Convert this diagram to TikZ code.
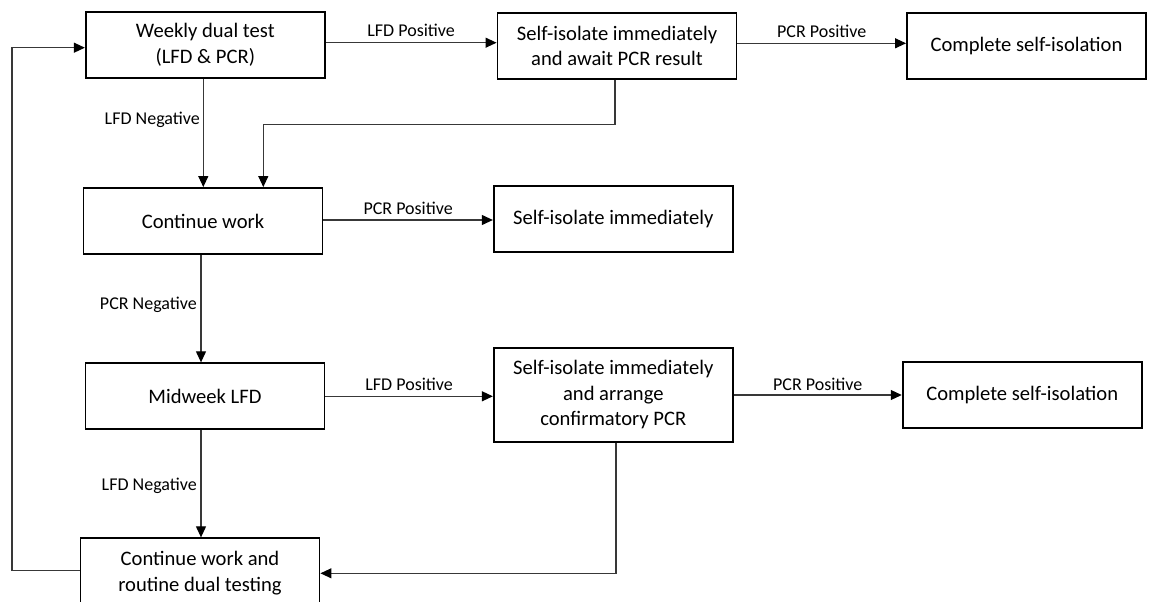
\documentclass[tikz,border=0pt]{standalone}
\usepackage{fontspec}
\setmainfont{Carlito}
\usetikzlibrary{arrows.meta}
\begin{document}
\begin{tikzpicture}[x=1pt,y=-1pt,
  box/.style={draw=black, line width=1.9pt, fill=white, minimum width=239pt, minimum height=66pt, inner sep=2pt, align=center, font=\fontsize{20.6}{25.5}\selectfont},
  conn/.style={draw=black!78, line width=1.1pt},
  arr/.style={conn, -{Triangle[length=11pt,width=10pt,color=black]}},
  lab/.style={font=\fontsize{18}{20}\selectfont, inner sep=0pt}
]
\useasboundingbox (0,0) rectangle (1151,602);
\fill[white] (0,0) rectangle (1151,602);
\clip (0,0) rectangle (1151,602);

\node[box] (b1) at (205.3,44.7) {Weekly dual test\\(LFD \& PCR)};
\node[box] (b2) at (617,45.7) {Self-isolate immediately\\and await PCR result};
\node[box] (b3) at (1026.5,45.7) {Complete self-isolation};
\node[box] (b4) at (203,221) {Continue work};
\node[box] (b5) at (613.3,219) {Self-isolate immediately};
\node[box] (b6) at (205,396.3) {Midweek LFD};
\node[box, minimum height=94.6pt] (b7) at (613.3,395) {Self-isolate immediately\\and arrange\\confirmatory PCR};
\node[box] (b8) at (1022.2,395.4) {Complete self-isolation};
\node[box, minimum height=70pt] (b9) at (200,573.3) {Continue work and\\routine dual testing};

% horizontal arrows with labels
\draw[arr] ([yshift=2pt]b1.east) -- ([yshift=2pt]b1.east -| b2.west)
  node[lab, midway, anchor=base, yshift=6.5pt] (t1) {LFD Positive};
\draw[arr] ([yshift=2.4pt]b2.east) -- ([yshift=2.4pt]b2.east -| b3.west)
  node[lab, midway, anchor=base, yshift=6pt] (t2) {PCR Positive};
\draw[arr] ([yshift=1pt]b4.east) -- ([yshift=1pt]b4.east -| b5.west)
  node[lab, midway, anchor=base, yshift=6pt] (t3) {PCR Positive};
\draw[arr] (b6.east) -- (b6.east -| b7.west)
  node[lab, midway, anchor=base, yshift=5.6pt] (t4) {LFD Positive};
\draw[arr] (b7.east) -- (b7.east -| b8.west)
  node[lab, midway, anchor=base, yshift=5pt] (t5) {PCR Positive};

% vertical arrows
\draw[arr] ([xshift=-2pt]b1.south) -- ([xshift=-2pt]b1.south |- b4.north);
\node[lab, anchor=base east] (l1) at (200,124.3) {LFD Negative};

\coordinate (j1) at (263.3,124.3);
\draw[arr] ([xshift=-2pt]b2.south) |- (j1) -- (j1 |- b4.north);

\draw[arr] ([xshift=-2pt]b4.south) -- ([xshift=-2pt]b4.south |- b6.north);
\node[lab, anchor=base east] (l2) at (197,309) {PCR Negative};

\draw[arr] ([xshift=-4pt]b6.south) -- ([xshift=-4pt]b6.south |- b9.north);
\node[lab, anchor=base east] (l3) at (197,490.6) {LFD Negative};

\draw[arr] ([xshift=2.7pt]b7.south) |- (b9.east);

% loop back
\coordinate (lpb) at (12,570.7);
\coordinate (lpt) at (12,47.7);
\draw[arr] (b9.west |- lpb) -- (lpb) -- (lpt) -- (lpt -| b1.west);
\end{tikzpicture}
\end{document}
